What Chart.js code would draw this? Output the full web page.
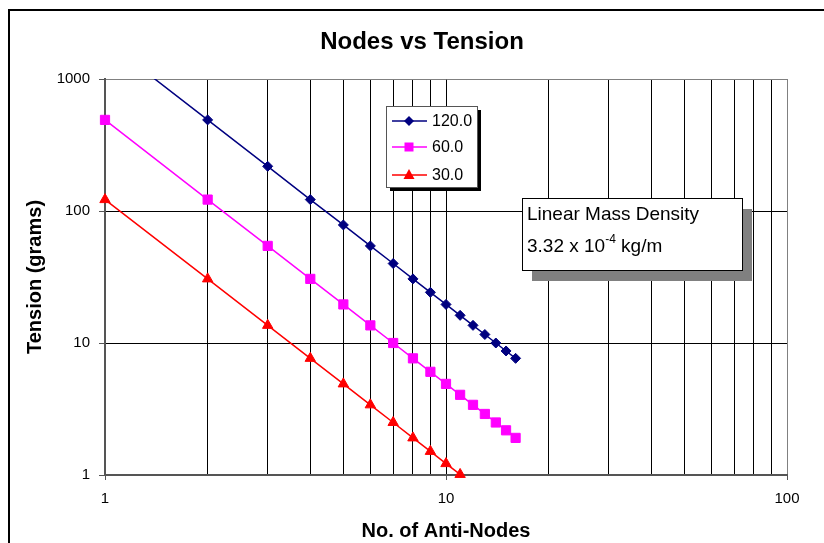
<!DOCTYPE html>
<html>
<head>
<meta charset="utf-8">
<script src="https://cdn.jsdelivr.net/npm/chart.js@4.4.0/dist/chart.umd.min.js"></script>
<style>
html,body{margin:0;padding:0;background:#fff;}
#wrap{width:824px;height:543px;position:relative;overflow:hidden;}
</style>
</head>
<body>
<div id="wrap"><canvas id="c" width="824" height="543"></canvas></div>
<script>
// ---- data ----
const antiNodes = [1, 2, 3, 4, 5, 6, 7, 8, 9, 10, 11, 12, 13, 14, 15, 16];
const tension120 = [1960, 490, 218, 122, 78.4, 54.4, 40, 30.6, 24.2, 19.6, 16.2, 13.6, 11.6, 10.0, 8.7, 7.65];
const tension60 = [490, 122, 54.4, 30.6, 19.6, 13.6, 10.0, 7.65, 6.05, 4.9, 4.05, 3.4, 2.9, 2.5, 2.18, 1.91];
const tension30 = [122, 30.6, 13.6, 7.65, 4.9, 3.4, 2.5, 1.91, 1.51, 1.22, 1.01];
const seriesLabels = ['120.0', '60.0', '30.0'];
const xGridValues = [1, 2, 3, 4, 5, 6, 7, 8, 9, 10, 20, 30, 40, 50, 60, 70, 80, 90, 100];
const xLabelValues = [1, 10, 100];
const yTickValues = [1, 10, 100, 1000];
const chartTitle = 'Nodes vs Tension';
const xTitle = 'No. of Anti-Nodes';
const yTitle = 'Tension (grams)';
const noteLine1 = 'Linear Mass Density';
const noteLine2a = '3.32 x 10';
const noteSup = '-4';
const noteLine2b = ' kg/m';

const FONT = "'Liberation Sans', Arial, Helvetica, sans-serif";
const colors = ['#000080', '#FF00FF', '#FF0000'];
const styles = ['rectRot', 'rect', 'triangle'];
const radii = [5, 6.5, 6];

function pts(vals) { return vals.map((v, i) => ({x: antiNodes[i], y: v})); }

const decorPlugin = {
  id: 'decor',
  afterDraw(chart) {
    const ctx = chart.ctx;
    ctx.save();
    // outer chart border
    ctx.strokeStyle = '#000';
    ctx.lineWidth = 2;
    ctx.strokeRect(9, 10, 830, 545);
    // title
    ctx.fillStyle = '#000';
    ctx.font = "bold 24px " + FONT;
    ctx.textAlign = 'center';
    ctx.textBaseline = 'alphabetic';
    ctx.fillText(chartTitle, 422, 49);

    // legend box
    const lx = 386, ly = 106, lw = 91, lh = 81;
    ctx.fillStyle = '#000';
    ctx.fillRect(lx + 4, ly + 4, lw, lh);
    ctx.fillStyle = '#fff';
    ctx.fillRect(lx, ly, lw, lh);
    ctx.strokeStyle = '#555';
    ctx.lineWidth = 1;
    ctx.strokeRect(lx + 0.5, ly + 0.5, lw, lh);
    const rowY = [121, 147, 175];
    chart.data.datasets.forEach((ds, i) => {
      const y = rowY[i];
      ctx.strokeStyle = colors[i];
      ctx.lineWidth = 1.5;
      ctx.beginPath();
      ctx.moveTo(392, y);
      ctx.lineTo(427, y);
      ctx.stroke();
      ctx.fillStyle = colors[i];
      const cx = 409;
      ctx.beginPath();
      if (i === 0) {
        ctx.moveTo(cx, y - 5); ctx.lineTo(cx + 5, y); ctx.lineTo(cx, y + 5); ctx.lineTo(cx - 5, y); ctx.closePath();
      } else if (i === 1) {
        ctx.rect(cx - 4.5, y - 4.5, 9, 9);
      } else {
        ctx.moveTo(cx, y - 6); ctx.lineTo(cx + 5.5, y + 4); ctx.lineTo(cx - 5.5, y + 4); ctx.closePath();
      }
      ctx.fill();
      ctx.fillStyle = '#000';
      ctx.font = "16px " + FONT;
      ctx.textAlign = 'left';
      ctx.textBaseline = 'middle';
      ctx.fillText(ds.label, 432, y + 1);
    });

    // note box
    const nx = 522, ny = 198, nw = 220, nh = 72;
    ctx.fillStyle = '#808080';
    ctx.fillRect(nx + 10, ny + 11, nw, nh);
    ctx.fillStyle = '#fff';
    ctx.fillRect(nx, ny, nw, nh);
    ctx.strokeStyle = '#000';
    ctx.lineWidth = 1;
    ctx.strokeRect(nx + 0.5, ny + 0.5, nw, nh);
    ctx.fillStyle = '#000';
    ctx.textAlign = 'left';
    ctx.textBaseline = 'alphabetic';
    ctx.font = "19px " + FONT;
    ctx.fillText(noteLine1, 527, 220);
    let x = 527;
    ctx.fillText(noteLine2a, x, 252);
    x += ctx.measureText(noteLine2a).width;
    ctx.font = "12px " + FONT;
    ctx.fillText(noteSup, x, 243);
    x += ctx.measureText(noteSup).width;
    ctx.font = "19px " + FONT;
    ctx.fillText(noteLine2b, x, 252);
    ctx.restore();
  }
};

new Chart(document.getElementById('c'), {
  type: 'line',
  data: {
    datasets: [
      {label: seriesLabels[0], data: pts(tension120), clip: {left: 20, top: 0, right: 20, bottom: 20}},
      {label: seriesLabels[1], data: pts(tension60), clip: false},
      {label: seriesLabels[2], data: pts(tension30), clip: false}
    ].map((d, i) => Object.assign(d, {
      borderColor: colors[i],
      backgroundColor: colors[i],
      pointBackgroundColor: colors[i],
      pointBorderColor: colors[i],
      pointStyle: styles[i],
      pointRadius: radii[i],
      pointHoverRadius: radii[i],
      pointBorderWidth: 1,
      borderWidth: 1.5,
      tension: 0,
      fill: false
    }))
  },
  options: {
    responsive: false,
    animation: false,
    devicePixelRatio: 1,
    layout: {padding: {left: 0, right: 37, top: 79, bottom: 0}},
    plugins: {legend: {display: false}, title: {display: false}, tooltip: {enabled: false}},
    scales: {
      x: {
        type: 'logarithmic',
        min: 1, max: 100,
        afterBuildTicks(scale) { scale.ticks = xGridValues.map(v => ({value: v})); },
        afterFit(scale) { scale.height = 68; },
        ticks: {
          autoSkip: false, maxRotation: 0, minRotation: 0,
          padding: 10,
          color: '#000',
          font: {family: FONT, size: 15},
          callback: (v) => xLabelValues.includes(v) ? String(v) : ''
        },
        grid: {
          color: (c) => (c.tick && c.tick.value === 100) ? '#808080' : '#000',
          lineWidth: 1,
          tickLength: 5,
          tickColor: (c) => (c.tick && xLabelValues.includes(c.tick.value)) ? '#555' : 'rgba(0,0,0,0)'
        },
        border: {color: '#555', width: 2},
        title: {display: true, text: xTitle, color: '#000', font: {family: FONT, size: 20, weight: 'bold'}, padding: {top: 0, bottom: 0}}
      },
      y: {
        type: 'logarithmic',
        min: 1, max: 1000,
        afterBuildTicks(scale) { scale.ticks = yTickValues.map(v => ({value: v})); },
        afterFit(scale) { scale.width = 105; },
        ticks: {
          padding: 9,
          color: '#000',
          font: {family: FONT, size: 15},
          callback: (v) => String(v)
        },
        grid: {
          color: (c) => (c.tick && c.tick.value === 1000) ? '#808080' : '#000',
          lineWidth: 1,
          tickLength: 6,
          tickColor: '#555'
        },
        border: {color: '#555', width: 2},
        title: {display: true, text: yTitle, color: '#000', font: {family: FONT, size: 20, weight: 'bold'}, padding: {top: 23, bottom: 0}}
      }
    }
  },
  plugins: [decorPlugin]
});
</script>
</body>
</html>
